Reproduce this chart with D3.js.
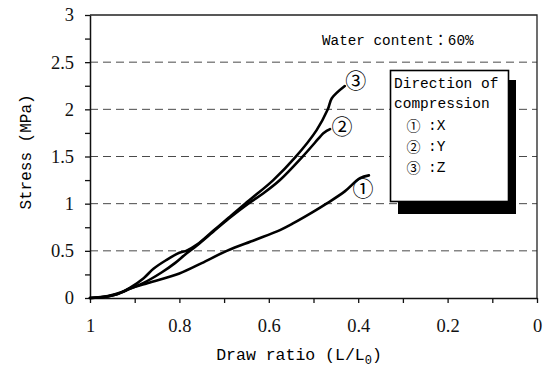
<!DOCTYPE html>
<html>
<head>
<meta charset="utf-8">
<script src="https://cdn.jsdelivr.net/npm/d3@7"></script>
<style>
body { margin: 0; background: #fff; }
svg { display: block; }
</style>
</head>
<body>
<svg id="chart"></svg>
<script>
"use strict"

// draw ratio / stress readings, one pair of arrays per direction
const xDirX = [1, 0.96, 0.93, 0.91, 0.87, 0.80, 0.75, 0.694, 0.631, 0.575, 0.546, 0.50, 0.471, 0.43, 0.396, 0.376]
const xDirY = [0, 0.02, 0.06, 0.10, 0.16, 0.26, 0.37, 0.50, 0.615, 0.72, 0.79, 0.915, 1.0, 1.13, 1.27, 1.30]

const yDirX = [1, 0.97, 0.94, 0.91, 0.88, 0.84, 0.81, 0.785, 0.76, 0.725, 0.69, 0.646, 0.612, 0.575, 0.526, 0.485, 0.478, 0.463]
const yDirY = [0, 0.01, 0.04, 0.10, 0.16, 0.27, 0.37, 0.47, 0.56, 0.70, 0.84, 1.0, 1.11, 1.25, 1.49, 1.71, 1.746, 1.79]

const zDirX = [1, 0.97, 0.94, 0.91, 0.88, 0.858, 0.83, 0.80, 0.785, 0.76, 0.725, 0.69, 0.653, 0.635, 0.59, 0.541, 0.493, 0.468, 0.459, 0.43]
const zDirY = [0, 0.01, 0.04, 0.11, 0.21, 0.31, 0.40, 0.48, 0.50, 0.57, 0.71, 0.85, 1.0, 1.07, 1.25, 1.49, 1.78, 2.0, 2.117, 2.247]

const curveMarks = ["①", "②", "③"]
const directions = ["X", "Y", "Z"]

const xTickValues = [1, 0.8, 0.6, 0.4, 0.2, 0]
const xTickLabels = ["1", "0.8", "0.6", "0.4", "0.2", "0"]
const yTickValues = [0, 0.5, 1, 1.5, 2, 2.5, 3]
const yTickLabels = ["0", "0.5", "1", "1.5", "2", "2.5", "3"]
const gridValues = [0.5, 1, 1.5, 2, 2.5]

const width = 546, height = 367
const margin = { top: 15, right: 9, bottom: 69, left: 90 }

const svg = d3.select("#chart")
    .attr("width", width)
    .attr("height", height)

svg.append("rect").attr("width", width).attr("height", height).attr("fill", "#fff")

const x = d3.scaleLinear().domain([1, 0]).range([margin.left, width - margin.right])
const y = d3.scaleLinear().domain([0, 3]).range([height - margin.bottom, margin.top])

const monoFont = "'Liberation Mono', 'Noto Sans CJK JP', monospace"
const numFont = "'Liberation Serif', serif"
const circleFont = "'Noto Sans CJK JP', sans-serif"

// dashed grid
svg.append("g")
    .selectAll("line")
    .data(gridValues)
    .enter().append("line")
        .attr("x1", x(1)).attr("x2", x(0))
        .attr("y1", d => y(d)).attr("y2", d => y(d))
        .attr("stroke", "#4a4a4a")
        .attr("stroke-width", 1)
        .attr("stroke-dasharray", "8,5")

// frame top + right
svg.append("path")
    .attr("d", "M" + x(1) + "," + y(3) + "H" + x(0) + "V" + y(0))
    .attr("fill", "none")
    .attr("stroke", "#222")
    .attr("stroke-width", 1.3)

// axes
const xAxis = d3.axisBottom(x)
    .tickValues(d3.range(0, 11).map(i => i / 10))
    .tickSize(5)
    .tickSizeOuter(0)
    .tickPadding(16)
    .tickFormat(d => {
        const idx = xTickValues.findIndex(v => Math.abs(v - d) < 1e-6)
        return idx >= 0 ? xTickLabels[idx] : ""
    })

const yAxis = d3.axisLeft(y)
    .tickValues(d3.range(0, 13).map(i => i / 4))
    .tickSize(5)
    .tickSizeOuter(0)
    .tickPadding(11)
    .tickFormat(d => {
        const idx = yTickValues.findIndex(v => Math.abs(v - d) < 1e-6)
        return idx >= 0 ? yTickLabels[idx] : ""
    })

const gx = svg.append("g")
    .attr("transform", "translate(0," + y(0) + ")")
    .call(xAxis)
const gy = svg.append("g")
    .attr("transform", "translate(" + x(1) + ",0)")
    .call(yAxis)

for (const g of [gx, gy]) {
    g.select(".domain").attr("stroke", "#111").attr("stroke-width", 1.5)
    g.selectAll(".tick line").attr("stroke", "#111").attr("stroke-width", 1.3)
    g.selectAll("text")
        .attr("fill", "#111")
        .style("font-family", numFont)
        .style("font-size", "18.5px")
}

// curves
const line = d3.line()
    .x(d => x(d[0]))
    .y(d => y(d[1]))
    .curve(d3.curveCatmullRom.alpha(0.5))

const series = [
    d3.zip(xDirX, xDirY),
    d3.zip(yDirX, yDirY),
    d3.zip(zDirX, zDirY)
]

svg.append("g")
    .selectAll("path")
    .data(series)
    .enter().append("path")
        .attr("d", line)
        .attr("fill", "none")
        .attr("stroke", "#000")
        .attr("stroke-width", 2.6)
        .attr("stroke-linejoin", "round")
        .attr("stroke-linecap", "round")

// circled labels next to curve ends
const labelOffsets = [[-6, 12], [12, -4], [11, -7.5]]
svg.append("g")
    .selectAll("text")
    .data(series)
    .enter().append("text")
        .attr("x", (d, i) => x(d[d.length - 1][0]) + labelOffsets[i][0])
        .attr("y", (d, i) => y(d[d.length - 1][1]) + labelOffsets[i][1])
        .attr("text-anchor", "middle")
        .attr("dominant-baseline", "central")
        .style("font-family", circleFont)
        .style("font-size", "21px")
        .attr("fill", "#000")
        .text((d, i) => curveMarks[i])

// water content note
svg.append("text")
    .attr("x", 322).attr("y", 45)
    .style("font-family", monoFont)
    .style("font-size", "14.3px")
    .attr("fill", "#000")
    .text("Water content：60%")

// legend box with drop shadow
const legend = svg.append("g")
legend.append("rect")
    .attr("x", 398).attr("y", 80).attr("width", 118).attr("height", 134)
    .attr("fill", "#000")
legend.append("rect")
    .attr("x", 390.5).attr("y", 70.5).attr("width", 118).attr("height", 131)
    .attr("fill", "#fff")
    .attr("stroke", "#000")
    .attr("stroke-width", 1.6)

legend.selectAll(".head")
    .data(["Direction of", "compression"])
    .enter().append("text")
        .attr("class", "head")
        .attr("x", 394)
        .attr("y", (d, i) => 88 + i * 20)
        .style("font-family", monoFont)
        .style("font-size", "14.5px")
        .attr("fill", "#000")
        .text(d => d)

const rows = legend.selectAll(".row")
    .data(directions)
    .enter().append("g")
        .attr("class", "row")
        .attr("transform", (d, i) => "translate(0," + (130 + i * 21) + ")")
rows.append("text")
    .attr("x", 413.5)
    .attr("y", -5)
    .attr("text-anchor", "middle")
    .attr("dominant-baseline", "central")
    .style("font-family", circleFont)
    .style("font-size", "14px")
    .attr("fill", "#000")
    .text((d, i) => curveMarks[i])
rows.append("text")
    .attr("x", 428)
    .attr("y", 0)
    .style("font-family", monoFont)
    .style("font-size", "14.5px")
    .attr("fill", "#000")
    .text(d => ":" + d)

// axis titles
svg.append("text")
    .attr("transform", "translate(31," + 152 + ") rotate(-90)")
    .attr("text-anchor", "middle")
    .style("font-family", monoFont)
    .style("font-size", "16px")
    .attr("fill", "#000")
    .text("Stress (MPa)")

const xTitle = svg.append("text")
    .attr("x", 299).attr("y", 360)
    .attr("text-anchor", "middle")
    .style("font-family", monoFont)
    .style("font-size", "16.5px")
    .attr("fill", "#000")
xTitle.append("tspan").text("Draw ratio (L/L")
xTitle.append("tspan").attr("dy", 4).style("font-size", "12px").text("0")
xTitle.append("tspan").attr("dy", -4).text(")")
</script>
</body>
</html>
